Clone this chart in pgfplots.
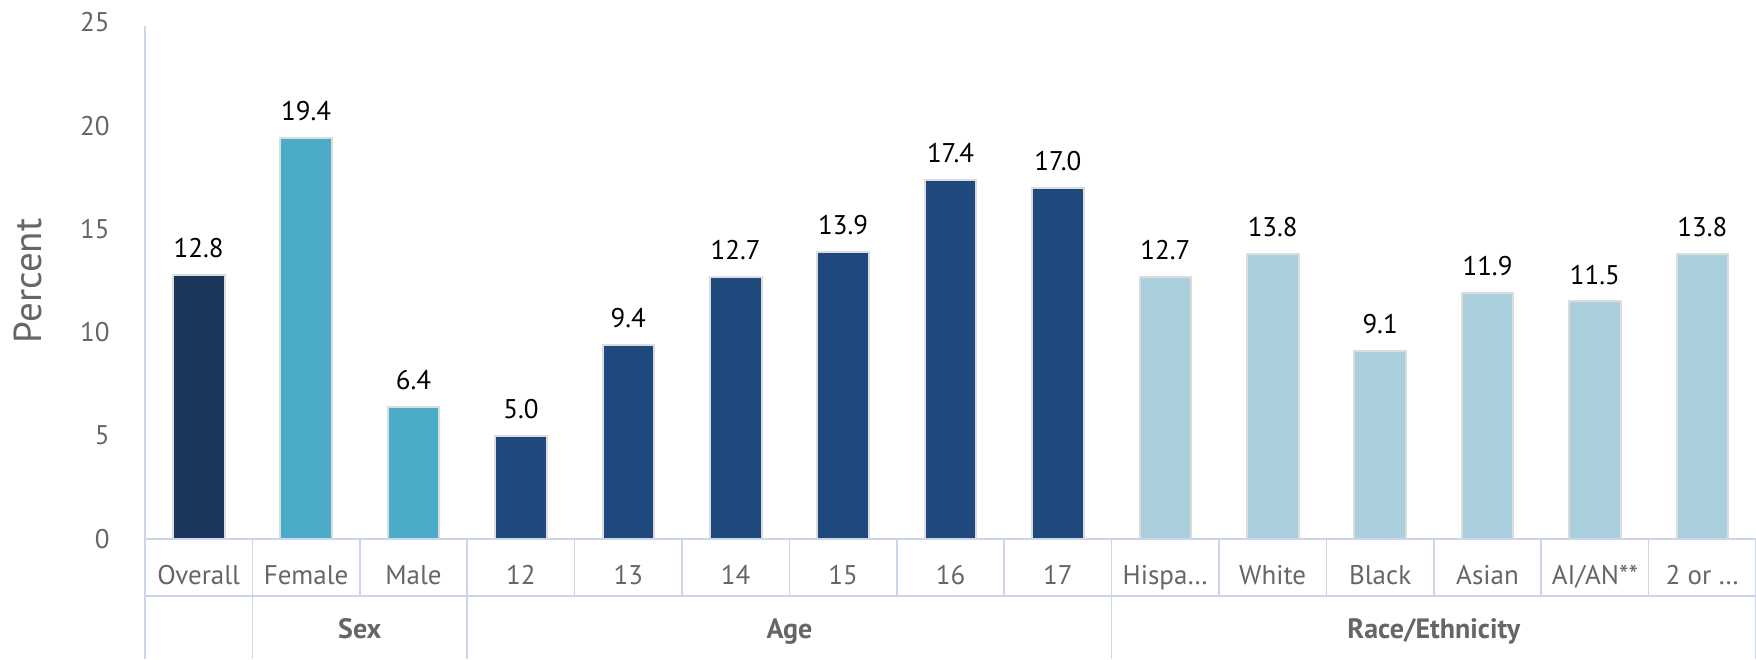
\documentclass[border=0pt]{standalone}
\usepackage{fontspec}
\setmainfont{PT Sans}
\usepackage{pgfplots}
\pgfplotsset{compat=1.18}

\definecolor{cOverall}{HTML}{1A365D}
\definecolor{cSex}{HTML}{4AABC6}
\definecolor{cAge}{HTML}{1F487C}
\definecolor{cRace}{HTML}{A9CEDC}
\definecolor{gridc}{HTML}{CCD6EB}
\definecolor{bord}{HTML}{DCDCDC}
\definecolor{txt}{HTML}{666666}

\begin{document}
\begin{tikzpicture}
\useasboundingbox (0,0) rectangle (878pt,329.5pt);
\begin{axis}[
  at={(72.5pt,60pt)}, anchor=south west,
  width=805.5pt, height=258.25pt, scale only axis,
  xmin=-0.5, xmax=14.5, ymin=0, ymax=25,
  clip=false,
  ybar, bar width=25.8pt, bar shift=0pt,
  axis line style={draw=none},
  major tick length=0pt, tick style={draw=none},
  ytick={0,5,...,25},
  xtick={0,...,14},
  xticklabels={Overall,Female,Male,12,13,14,15,16,17,Hispa…,White,Black,Asian,AI/AN**,2 or …},
  /pgf/number format/assume math mode=true,
  ticklabel style={font=\fontsize{13.5}{16}\selectfont, text=txt, inner sep=0pt},
  yticklabel style={anchor=east, xshift=-17.5pt},
  xticklabel style={anchor=base, yshift=-22.5pt},
  ylabel={Percent},
  ylabel style={at={(axis description cs:-0.0726,0.5)}, anchor=center,
    font=\fontsize{19.5}{22}\selectfont, text=txt},
  nodes near coords={\pgfmathprintnumber[fixed,fixed zerofill,precision=1,assume math mode=true]{\pgfplotspointmeta}},
  nodes near coords style={font=\fontsize{13.5}{16}\selectfont, text=black,
    anchor=south, inner sep=0pt, yshift=8pt},
  every axis plot/.append style={draw=bord, line width=1pt},
]
\addplot[fill=cOverall] coordinates {(0,12.8)};
\addplot[fill=cSex] coordinates {(1,19.4) (2,6.4)};
\addplot[fill=cAge] coordinates {(3,5.0) (4,9.4) (5,12.7) (6,13.9) (7,17.4) (8,17.0)};
\addplot[fill=cRace] coordinates {(9,12.7) (10,13.8) (11,9.1) (12,11.9) (13,11.5) (14,13.8)};

% table lines below the plot
\draw[gridc, line width=0.8pt] (axis cs:-0.5,24.85) -- ([yshift=-60pt]axis cs:-0.5,0);
\draw[gridc, line width=0.8pt] (axis cs:-0.5,0) -- (axis cs:14.5,0);
\draw[gridc, line width=0.8pt] ([yshift=-28.5pt]axis cs:-0.5,0) -- ([yshift=-28.5pt]axis cs:14.5,0);
\pgfplotsinvokeforeach{0.5,1.5,2.5,3.5,4.5,5.5,6.5,7.5,8.5,9.5,10.5,11.5,12.5,13.5,14.5}{
  \draw[gridc, line width=0.8pt] (axis cs:#1,0) -- ([yshift=-28.5pt]axis cs:#1,0);
}
\pgfplotsinvokeforeach{0.5,2.5,8.5,14.5}{
  \draw[gridc, line width=0.8pt] ([yshift=-28.5pt]axis cs:#1,0) -- ([yshift=-60pt]axis cs:#1,0);
}

\node[anchor=base, text=txt, font=\fontsize{14}{16}\selectfont\bfseries] at ([yshift=-49.5pt]axis cs:1.5,0) {Sex};
\node[anchor=base, text=txt, font=\fontsize{14}{16}\selectfont\bfseries] at ([yshift=-49.5pt]axis cs:5.5,0) {Age};
\node[anchor=base, text=txt, font=\fontsize{14}{16}\selectfont\bfseries] at ([yshift=-49.5pt]axis cs:11.5,0) {Race/Ethnicity};
\end{axis}
\end{tikzpicture}
\end{document}
